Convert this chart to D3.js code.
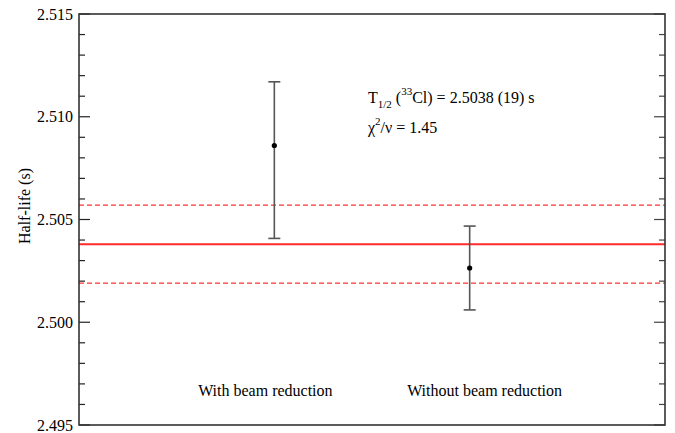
<!DOCTYPE html>
<html>
<head>
<meta charset="utf-8">
<script src="https://cdn.jsdelivr.net/npm/d3@7"></script>
<style>
  body { margin: 0; background: #fff; }
  svg text { font-family: "Liberation Serif", "Times New Roman", "DejaVu Serif", serif; fill: #000; }
</style>
</head>
<body>
<div id="chart"></div>
<script>
// data
var categories = ["With beam reduction", "Without beam reduction"];
var catPos = [1, 2];
var values = [2.5086, 2.50264];
var errLow = [2.50408, 2.50060];
var errHigh = [2.51170, 2.50468];
var labelPos = [0.61, 1.68];

var mean = 2.5038;
var meanLow = 2.5019;
var meanHigh = 2.5057;

var yMajor = [2.495, 2.500, 2.505, 2.510, 2.515];
var yMinor = d3.range(2495, 2516).map(function(d) { return d / 1000; });

var serif = "'Liberation Serif', 'Times New Roman', 'DejaVu Serif', serif";

var w = 675, h = 433;
var margin = { top: 14, right: 10, bottom: 8, left: 79 };

var x = d3.scaleLinear().domain([0, 3]).range([margin.left, w - margin.right]);
var y = d3.scaleLinear().domain([2.495, 2.515]).range([h - margin.bottom, margin.top]);

var svg = d3.select("#chart").append("svg")
    .attr("width", w)
    .attr("height", h)
    .attr("font-family", serif);

var x0 = x.range()[0], x1 = x.range()[1];

// mean and its band
svg.append("line")
    .attr("x1", x0).attr("x2", x1)
    .attr("y1", y(mean)).attr("y2", y(mean))
    .attr("stroke", "#ff2a2a").attr("stroke-width", 2);

svg.selectAll(".band")
    .data([meanLow, meanHigh])
    .enter()
    .append("line")
    .attr("class", "band")
    .attr("x1", x0).attr("x2", x1)
    .attr("y1", function(d) { return y(d); })
    .attr("y2", function(d) { return y(d); })
    .attr("stroke", "#ff3333").attr("stroke-width", 1.2)
    .attr("stroke-dasharray", "5,3");

// error bars
var pts = categories.map(function(c, i) {
    return { key: c, x: catPos[i], v: values[i], lo: errLow[i], hi: errHigh[i] };
});

svg.selectAll(".err")
    .data(pts)
    .enter()
    .append("line")
    .attr("class", "err")
    .attr("x1", function(d) { return x(d.x); })
    .attr("x2", function(d) { return x(d.x); })
    .attr("y1", function(d) { return y(d.lo); })
    .attr("y2", function(d) { return y(d.hi); })
    .attr("stroke", "#555").attr("stroke-width", 1.6);

["lo", "hi"].forEach(function(k) {
    svg.selectAll(".cap-" + k)
        .data(pts)
        .enter()
        .append("line")
        .attr("x1", function(d) { return x(d.x) - 6; })
        .attr("x2", function(d) { return x(d.x) + 6; })
        .attr("y1", function(d) { return y(d[k]); })
        .attr("y2", function(d) { return y(d[k]); })
        .attr("stroke", "#555").attr("stroke-width", 1.6);
});

svg.selectAll(".pt")
    .data(pts)
    .enter()
    .append("circle")
    .attr("class", "pt")
    .attr("cx", function(d) { return x(d.x); })
    .attr("cy", function(d) { return y(d.v); })
    .attr("r", 2.6)
    .attr("fill", "#000");

// category labels inside the plot
svg.selectAll(".cat-label")
    .data(categories)
    .enter()
    .append("text")
    .attr("class", "cat-label")
    .attr("x", function(d, i) { return x(labelPos[i]); })
    .attr("y", 396)
    .style("font-size", "16px")
    .text(function(d) { return d; });

// axes: left with labels, right mirrored, ticks inward
var leftAxis = d3.axisLeft(y).tickValues(yMajor).tickFormat(d3.format(".3f")).tickSize(0).tickPadding(6);
svg.append("g")
    .attr("transform", "translate(" + x0 + ",0)")
    .call(leftAxis)
    .attr("font-family", serif)
    .call(function(g) {
        g.select(".domain").remove();
        g.selectAll("text")
            .style("font-family", serif)
            .style("font-size", "16px")
            .attr("fill", "#000");
    });

svg.selectAll(".tick-l")
    .data(yMinor)
    .enter()
    .append("line")
    .attr("x1", x0)
    .attr("x2", function(d) { return x0 + (yMajor.indexOf(d) > -1 ? 11 : 6); })
    .attr("y1", function(d) { return y(d); })
    .attr("y2", function(d) { return y(d); })
    .attr("stroke", "#222").attr("stroke-width", 1.2);

svg.selectAll(".tick-r")
    .data(yMinor)
    .enter()
    .append("line")
    .attr("x1", x1)
    .attr("x2", function(d) { return x1 - (yMajor.indexOf(d) > -1 ? 11 : 6); })
    .attr("y1", function(d) { return y(d); })
    .attr("y2", function(d) { return y(d); })
    .attr("stroke", "#444").attr("stroke-width", 1.2);

// frame
svg.append("rect")
    .attr("x", x0).attr("y", y.range()[1])
    .attr("width", x1 - x0).attr("height", y.range()[0] - y.range()[1])
    .attr("fill", "none").attr("stroke", "#333").attr("stroke-width", 1.6);

// y label
svg.append("text")
    .attr("transform", "translate(30,206) rotate(-90)")
    .attr("text-anchor", "middle")
    .style("font-size", "16px")
    .text("Half-life (s)");

// annotation
var ann = svg.append("text")
    .attr("x", 368).attr("y", 103)
    .style("font-size", "16px");
ann.append("tspan").text("T");
ann.append("tspan").attr("dy", 5).style("font-size", "11px").text("1/2");
ann.append("tspan").attr("dy", -5).text(" (");
ann.append("tspan").attr("dy", -8).style("font-size", "11px").text("33");
ann.append("tspan").attr("dy", 8).text("Cl) = 2.5038 (19) s");

var chi = svg.append("text")
    .attr("x", 368).attr("y", 133)
    .style("font-size", "16px");
chi.append("tspan").text("\u03c7");
chi.append("tspan").attr("dy", -8).style("font-size", "11px").text("2");
chi.append("tspan").attr("dy", 8).text("/\u03bd = 1.45");
</script>
</body>
</html>
